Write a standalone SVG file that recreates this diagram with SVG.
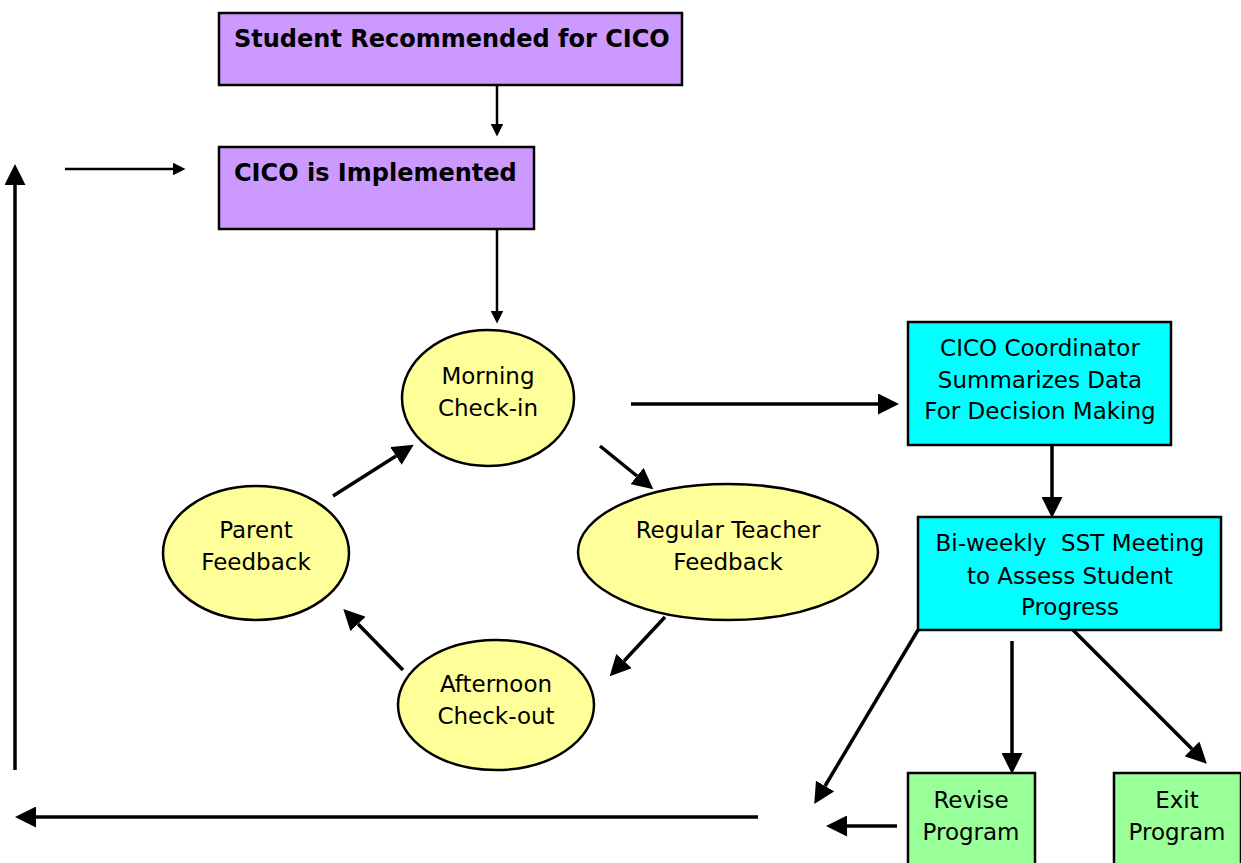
<svg xmlns="http://www.w3.org/2000/svg" width="1241" height="863" viewBox="0 0 1241 863">
<defs>
<style>
.purple{fill:#CC99FF;stroke:#000;stroke-width:2.5}
.cyan{fill:#00FFFF;stroke:#000;stroke-width:2.5}
.green{fill:#99FF99;stroke:#000;stroke-width:2.5}
.yellow{fill:#FFFF99;stroke:#000;stroke-width:2.5}
.t{font-family:"DejaVu Sans","Liberation Sans",sans-serif;font-size:23px;fill:#000;text-anchor:middle}
.b{font-family:"DejaVu Sans","Liberation Sans",sans-serif;font-size:24px;font-weight:bold;fill:#000}
.ln{stroke:#000;stroke-width:3.5;fill:none}
.ln2{stroke:#000;stroke-width:2.5;fill:none}
</style>
<marker id="ah" viewBox="0 0 10 10" refX="0" refY="5" markerWidth="6" markerHeight="6" markerUnits="strokeWidth" orient="auto"><path d="M0,0 L10,5 L0,10 z" fill="#000"/></marker>
<marker id="as" viewBox="0 0 10 10" refX="0" refY="5" markerWidth="5" markerHeight="5" markerUnits="strokeWidth" orient="auto"><path d="M0,0 L10,5 L0,10 z" fill="#000"/></marker>
</defs>
<g id="connectors">
<line class="ln2" x1="497" y1="85" x2="497" y2="124" marker-end="url(#as)"/>
<line class="ln2" x1="497" y1="229" x2="497" y2="311" marker-end="url(#as)"/>
<line class="ln2" x1="65" y1="169" x2="173" y2="169" marker-end="url(#as)"/>
<line class="ln" x1="631" y1="404" x2="878" y2="404" marker-end="url(#ah)"/>
<line class="ln" x1="1052" y1="445" x2="1052" y2="497" marker-end="url(#ah)"/>
<line class="ln" x1="600" y1="446" x2="637" y2="476" marker-end="url(#ah)"/>
<line class="ln" x1="665" y1="617" x2="624" y2="661" marker-end="url(#ah)"/>
<line class="ln" x1="403" y1="670" x2="358" y2="624" marker-end="url(#ah)"/>
<line class="ln" x1="333" y1="496" x2="396" y2="456" marker-end="url(#ah)"/>
<line class="ln" x1="918" y1="630" x2="825" y2="786" marker-end="url(#ah)"/>
<line class="ln" x1="1012" y1="641" x2="1012" y2="753" marker-end="url(#ah)"/>
<line class="ln" x1="1073" y1="630" x2="1192" y2="749" marker-end="url(#ah)"/>
<line class="ln" x1="897" y1="826" x2="847" y2="826" marker-end="url(#ah)"/>
<line class="ln" x1="758" y1="817" x2="36" y2="817" marker-end="url(#ah)"/>
<line class="ln" x1="15" y1="770" x2="15" y2="185" marker-end="url(#ah)"/>
</g>
<g id="n-recommended">
<rect class="purple" x="219" y="13" width="463" height="72"/>
<text class="b" x="234" y="47">Student Recommended for CICO</text>
</g>
<g id="n-implemented">
<rect class="purple" x="219" y="147" width="315" height="82"/>
<text class="b" x="234" y="181">CICO is Implemented</text>
</g>
<g id="n-morning">
<ellipse class="yellow" cx="488" cy="398" rx="86" ry="68"/>
<text class="t" x="488" y="384">Morning</text>
<text class="t" x="488" y="416">Check-in</text>
</g>
<g id="n-teacher">
<ellipse class="yellow" cx="728" cy="552" rx="150" ry="68"/>
<text class="t" x="728" y="538">Regular Teacher</text>
<text class="t" x="728" y="570">Feedback</text>
</g>
<g id="n-afternoon">
<ellipse class="yellow" cx="496" cy="705" rx="98" ry="65"/>
<text class="t" x="496" y="692">Afternoon</text>
<text class="t" x="496" y="724">Check-out</text>
</g>
<g id="n-parent">
<ellipse class="yellow" cx="256" cy="553" rx="93" ry="67"/>
<text class="t" x="256" y="538">Parent</text>
<text class="t" x="256" y="570">Feedback</text>
</g>
<g id="n-coordinator">
<rect class="cyan" x="908" y="322" width="263" height="123"/>
<text class="t" x="1040" y="356">CICO Coordinator</text>
<text class="t" x="1040" y="388">Summarizes Data</text>
<text class="t" x="1040" y="419">For Decision Making</text>
</g>
<g id="n-sst">
<rect class="cyan" x="918" y="517" width="303" height="113"/>
<text class="t" x="1070" y="551" xml:space="preserve">Bi-weekly  SST Meeting</text>
<text class="t" x="1070" y="584">to Assess Student</text>
<text class="t" x="1070" y="615">Progress</text>
</g>
<g id="n-revise">
<rect class="green" x="908" y="773" width="127" height="95"/>
<text class="t" x="971" y="808">Revise</text>
<text class="t" x="971" y="840">Program</text>
</g>
<g id="n-exit">
<rect class="green" x="1114" y="773" width="127" height="95"/>
<text class="t" x="1177" y="808">Exit</text>
<text class="t" x="1177" y="840">Program</text>
</g>
</svg>
